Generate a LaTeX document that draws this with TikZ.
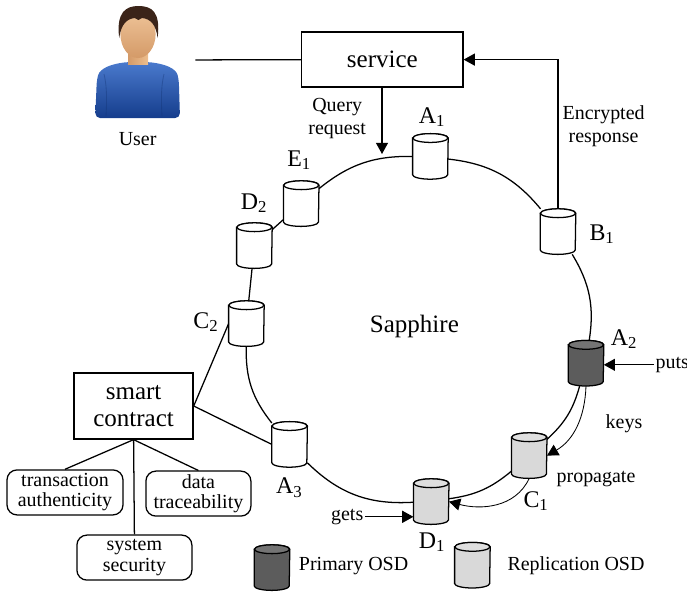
\documentclass[tikz,border=0pt]{standalone}
\usepackage{fontspec}
\setmainfont{Liberation Serif}
\usetikzlibrary{arrows.meta,positioning}

\definecolor{osddark}{HTML}{5C5C5C}
\definecolor{osdlight}{HTML}{D9D9D9}
\definecolor{skin}{HTML}{EDBE8E}
\definecolor{skindark}{HTML}{D49A68}
\definecolor{hair}{HTML}{3B2419}
\definecolor{shirt}{HTML}{2A62C4}
\definecolor{shirtdark}{HTML}{153D8C}

\begin{document}
\begin{tikzpicture}[
    txt/.style={font=\fontsize{14.2}{16.5}\selectfont, align=center, inner sep=1pt},
    big/.style={font=\fontsize{17.8}{19.5}\selectfont, align=center},
    lbl/.style={font=\fontsize{17}{19}\selectfont, inner sep=0pt},
    box/.style={draw, line width=0.9pt, big},
    prop/.style={draw, rounded corners=0.25cm, line width=0.9pt, txt,
                 font=\fontsize{14.2}{14.4}\selectfont, minimum height=1.125cm},
    osd/.style={rectangle, minimum width=0.875cm, minimum height=1.125cm, inner sep=0pt},
    ring/.style={line width=0.9pt},
    arrow/.style={-{Triangle[length=0.28cm, width=0.3cm]}, line width=0.9pt},
  ]
  \useasboundingbox (0,0) rectangle (17.175,-14.8);

  % user icon
  \shade[top color=shirt!85!white, bottom color=shirtdark, rounded corners=0.12cm]
    (2.38,-2.95) -- (2.42,-2.0) .. controls (2.5,-1.7) and (2.8,-1.6) .. (3.2,-1.55)
    -- (3.7,-1.55) .. controls (4.1,-1.6) and (4.4,-1.7) .. (4.47,-2.0) -- (4.5,-2.95) -- cycle;
  \draw[shirtdark!80!black, opacity=0.35, line width=0.6pt]
    (2.65,-2.9) .. controls (2.68,-2.4) and (2.66,-2.1) .. (2.6,-1.85)
    (4.05,-2.9) .. controls (4.02,-2.4) and (4.04,-2.1) .. (4.1,-1.85);
  \shade[left color=skindark, right color=skin] (3.2,-1.2) rectangle (3.7,-1.6);
  \shade[left color=skin!90!white, right color=skindark, shading angle=0]
    (3.45,-0.85) ellipse (0.44cm and 0.6cm);
  \fill[hair] (2.98,-0.95) .. controls (2.9,-0.3) and (3.15,-0.15) .. (3.46,-0.15)
    .. controls (3.8,-0.15) and (4.02,-0.3) .. (3.94,-0.95)
    .. controls (3.9,-0.6) and (3.75,-0.47) .. (3.55,-0.45)
    -- (3.46,-0.5) -- (3.37,-0.45)
    .. controls (3.17,-0.47) and (3.03,-0.6) .. cycle;
  \node (user) [minimum width=2.85cm, minimum height=3cm] at (3.45,-1.5) {};
  \node[txt] (usertxt) at (3.44,-3.48) {User};

  % service and the query path
  \node[box, minimum width=4.03cm, minimum height=1.375cm] (service) at (9.56,-1.49) {service};
  \coordinate (qin) at (9.55,-3.85);
  \node[txt] (query) at (8.43,-2.96) {Query\\request};
  \node[txt] (resp) at (15.09,-3.15) {Encrypted\\response};

  % storage ring
  \node[osd] (A1) at (10.76,-3.91) {};
  \node[osd] (B1) at (13.95,-5.79) {};
  \node[osd] (A2) at (14.65,-9.08) {};
  \node[osd] (C1) at (13.23,-11.39) {};
  \node[osd] (D1) at (10.78,-12.54) {};
  \node[osd] (A3) at (7.24,-11.11) {};
  \node[osd] (C2) at (6.16,-8.09) {};
  \node[osd] (D2) at (6.36,-6.14) {};
  \node[osd] (E1) at (7.53,-5.09) {};
  \node[osd] (legp) at (6.8,-14.19) {};
  \node[osd] (legr) at (11.81,-14.13) {};

  % cylinders on top of the osd nodes
  \foreach \n/\c in {A1/white, B1/white, A2/osddark, C1/osdlight, D1/osdlight,
                     A3/white, C2/white, D2/white, E1/white, legp/osddark, legr/osdlight} {
    \filldraw[fill=\c, line width=0.9pt]
      ([yshift=-0.11cm]\n.north west) -- ([yshift=0.11cm]\n.south west)
      arc[start angle=180, end angle=360, x radius=0.4375cm, y radius=0.11cm]
      -- ([yshift=-0.11cm]\n.north east)
      arc[start angle=0, end angle=180, x radius=0.4375cm, y radius=0.11cm] -- cycle;
    \filldraw[fill=\c!85!white, line width=0.9pt]
      ([yshift=-0.11cm]\n.north) ellipse (0.4375cm and 0.11cm);
  }

  \node[lbl] at (10.8,-2.93)  {A\textsubscript{1}};
  \node[lbl] at (15.05,-5.85) {B\textsubscript{1}};
  \node[lbl] at (15.6,-8.48)  {A\textsubscript{2}};
  \node[lbl] at (13.4,-12.53) {C\textsubscript{1}};
  \node[lbl] at (10.8,-13.55) {D\textsubscript{1}};
  \node[lbl] at (7.23,-12.2)  {A\textsubscript{3}};
  \node[lbl] at (5.15,-8.05)  {C\textsubscript{2}};
  \node[lbl] at (6.35,-5.08)  {D\textsubscript{2}};
  \node[lbl] at (7.48,-4.0)   {E\textsubscript{1}};

  \node[big] (sapphire) at (10.36,-8.15) {Sapphire};

  \draw[ring] (E1) to[bend left=20] (A1);
  \draw[ring] (A1) to[bend left=22] (B1);
  \draw[ring] (B1) to[bend left=20] (A2);
  \draw[ring] (A2) to[bend left=16] (C1);
  \draw[ring] (C1) to[bend left=16] (D1);
  \draw[ring] (D1) to[bend left=24] (A3);
  \draw[ring] (A3) to[bend left=20] (C2);
  \draw[ring] (C2) -- (D2);
  \draw[ring] (D2) -- (E1);

  \draw[ring] (user) -- (service);
  \draw[arrow] (service.south -| qin) -- (qin);
  \draw[arrow] (B1.north) |- (service.east);

  % puts, gets and key propagation
  \node[txt, anchor=west] (puts) at (16.35,-9.12) {puts};
  \node[txt] (keys) at (15.6,-10.6) {keys};
  \node[txt] (propagate) at (14.9,-11.98) {propagate};
  \node[txt] (gets) at (8.68,-12.92) {gets};
  \draw[arrow] (puts.west) -- (puts.west -| A2.east);
  \draw[arrow] (gets.east) -- (gets.east -| D1.west);
  \draw[arrow, line width=0.6pt] (A2.south) to[out=-92, in=30] (C1.east);
  \draw[arrow, line width=0.6pt] (C1.south) to[out=-115, in=-15] (D1.east);

  % smart contract and its properties
  \node[box, minimum width=2.975cm, minimum height=1.65cm] (smart) at (3.34,-10.15) {smart\\contract};
  \node[prop, minimum width=2.9cm]   (trans) at (1.625,-12.31) {transaction\\authenticity};
  \node[prop, minimum width=2.625cm] (data)  at (4.96,-12.34)  {data\\traceability};
  \node[prop, minimum width=2.875cm] (sys)   at (3.36,-13.94)  {system\\security};
  \draw[ring] (smart.east) -- (C2.west);
  \draw[ring] (smart.east) -- (A3.west);
  \draw[ring] (smart.south) -- (trans.north);
  \draw[ring] (smart.south) -- (data.north);
  \draw[ring] (smart.south) -- (sys.north);

  % legend
  \node[txt] (legptxt) at (8.84,-14.15) {Primary OSD};
  \node[txt] (legrtxt) at (14.4,-14.15) {Replication OSD};
\end{tikzpicture}
\end{document}
